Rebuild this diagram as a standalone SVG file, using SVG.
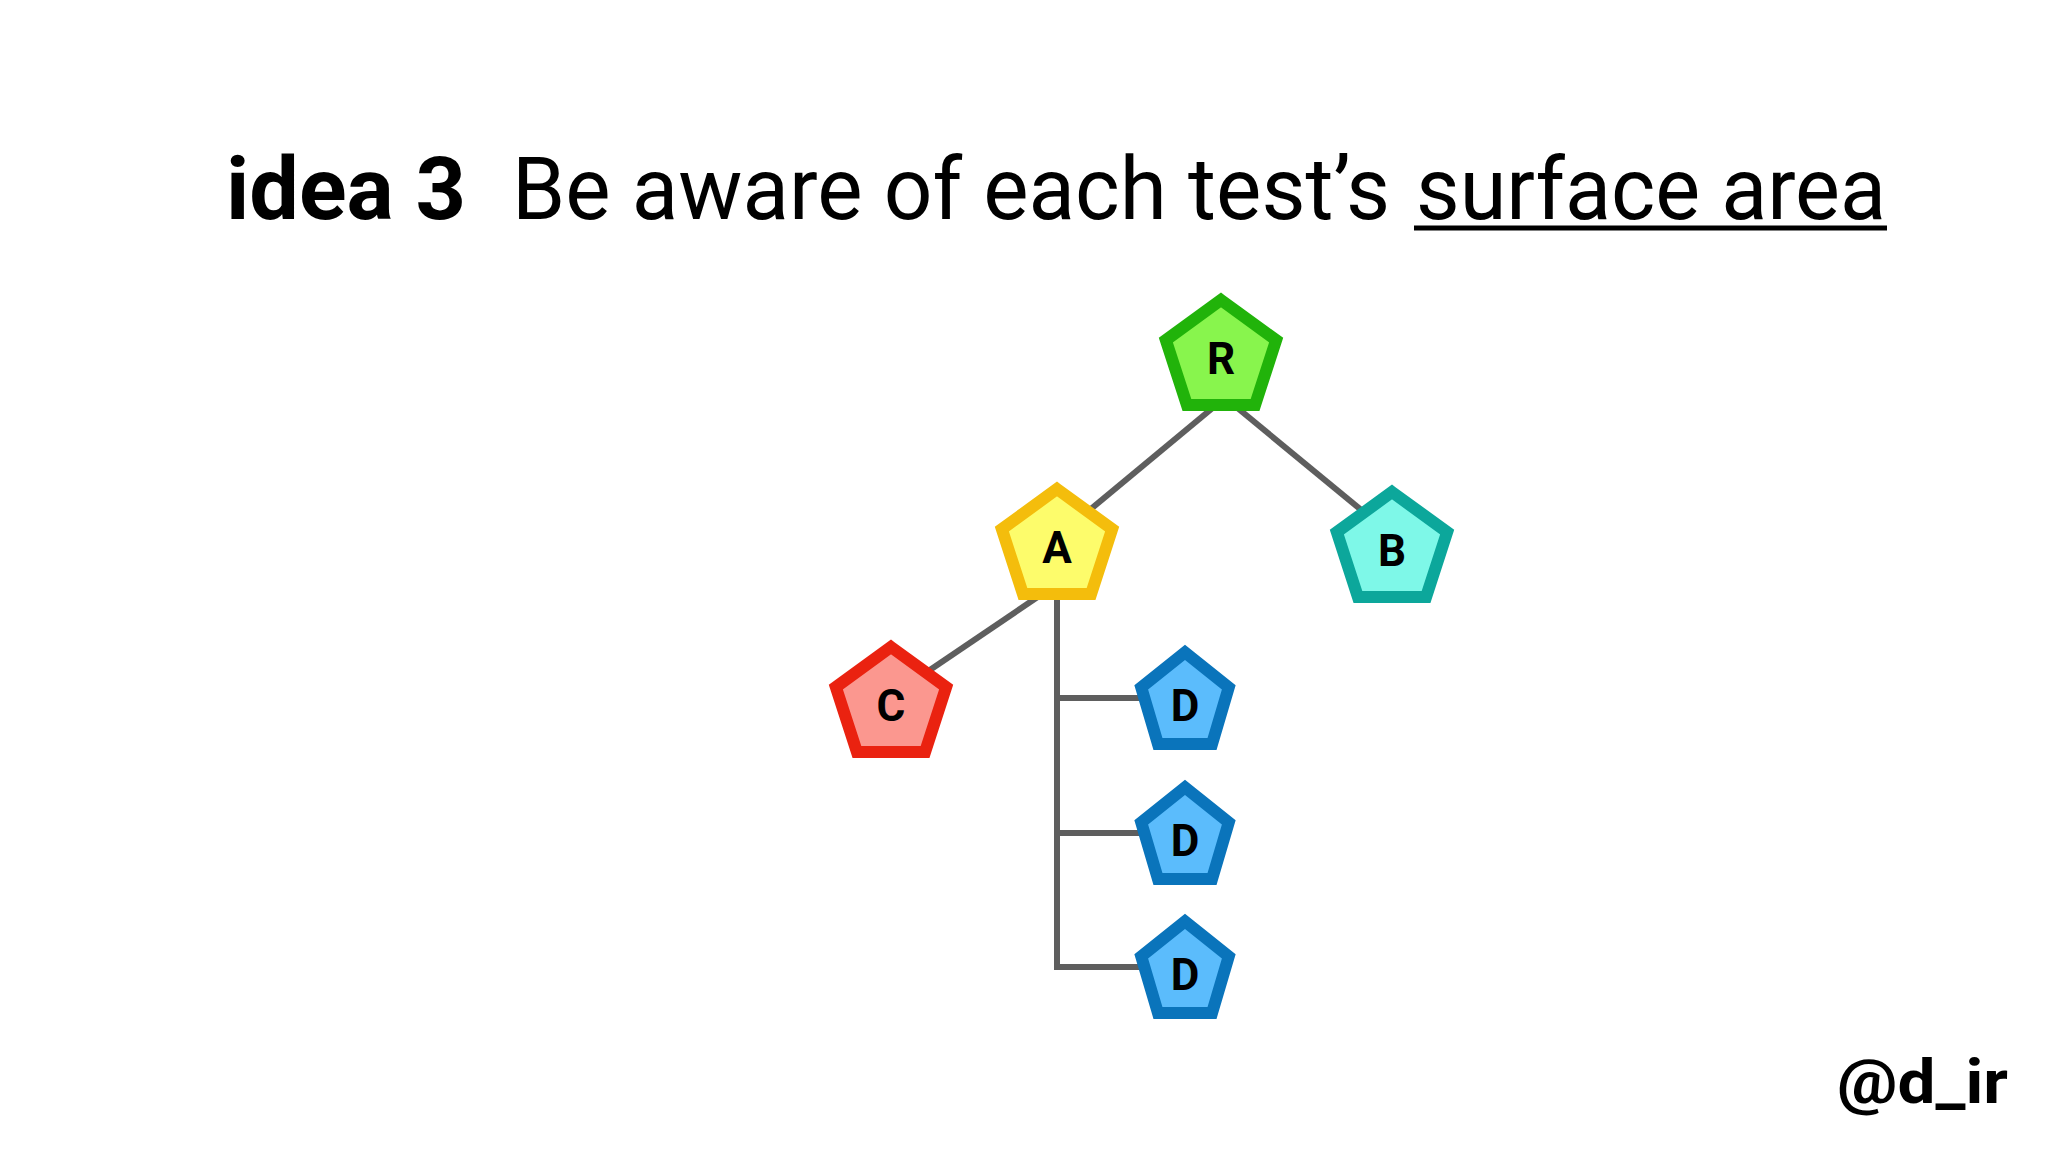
<svg xmlns="http://www.w3.org/2000/svg" width="2048" height="1152" viewBox="0 0 2048 1152">
  <style>
    .edge { fill: none; stroke: #5e5e5e; stroke-width: 6; stroke-linejoin: miter; }
    .node { stroke-width: 12; stroke-linejoin: miter; }
    .lbl { font-family: Roboto, "Liberation Sans", sans-serif; font-weight: 700; font-size: 44px; fill: #000; text-anchor: middle; }
    .title { font-family: Roboto, "Noto Sans", "Liberation Sans", sans-serif; font-size: 88px; fill: #000; }
  </style>
  <defs>
    <polygon id="pent" points="0,-58 55.16,-17.92 34.09,46.92 -34.09,46.92 -55.16,-17.92"/>
    <polygon id="pentD" points="0,-50.6 43.75,-15.63 27.04,40.94 -27.04,40.94 -43.75,-15.63"/>
  </defs>
  <rect width="2048" height="1152" fill="#ffffff"/>

  <g id="title">
    <text class="title" x="226" y="219" font-weight="700" textLength="240" lengthAdjust="spacingAndGlyphs">idea 3</text>
    <text class="title" x="512" y="219" font-weight="400" textLength="878" lengthAdjust="spacingAndGlyphs">Be aware of each test’s</text>
    <text class="title" x="1416" y="219" font-weight="400" textLength="470" lengthAdjust="spacingAndGlyphs">surface area</text>
    <line x1="1414" y1="228" x2="1887" y2="228" stroke="#000" stroke-width="5"/>
  </g>

  <g id="connectors">
    <line class="edge" x1="1221" y1="401" x2="1080" y2="518"/>
    <line class="edge" x1="1229" y1="401" x2="1371" y2="518"/>
    <line class="edge" x1="1045" y1="592" x2="921" y2="676"/>
    <polyline class="edge" points="1057,590 1057,967 1150,967"/>
    <line class="edge" x1="1057" y1="698" x2="1150" y2="698"/>
    <line class="edge" x1="1057" y1="833" x2="1150" y2="833"/>
  </g>

  <g id="node-R" transform="translate(1221,358)">
    <use href="#pent" class="node" fill="#88f54d" stroke="#21b30a"/>
    <text class="lbl" x="0" y="16">R</text>
  </g>
  <g id="node-A" transform="translate(1057,547)">
    <use href="#pent" class="node" fill="#fdfc6b" stroke="#f4bd0c"/>
    <text class="lbl" x="0" y="16">A</text>
  </g>
  <g id="node-B" transform="translate(1392,550)">
    <use href="#pent" class="node" fill="#7ef8e8" stroke="#0ca79b"/>
    <text class="lbl" x="0" y="16">B</text>
  </g>
  <g id="node-C" transform="translate(891,705)">
    <use href="#pent" class="node" fill="#fb978f" stroke="#ea2210"/>
    <text class="lbl" x="0" y="16">C</text>
  </g>
  <g id="node-D1" transform="translate(1185,703)">
    <use href="#pentD" class="node" fill="#5bbcfc" stroke="#0a74bb"/>
    <text class="lbl" x="0" y="18">D</text>
  </g>
  <g id="node-D2" transform="translate(1185,838)">
    <use href="#pentD" class="node" fill="#5bbcfc" stroke="#0a74bb"/>
    <text class="lbl" x="0" y="18">D</text>
  </g>
  <g id="node-D3" transform="translate(1185,972)">
    <use href="#pentD" class="node" fill="#5bbcfc" stroke="#0a74bb"/>
    <text class="lbl" x="0" y="18">D</text>
  </g>

  <g id="handle">
    <text x="1837" y="1103" font-family="Roboto, 'Liberation Sans', sans-serif" font-weight="700" font-size="62" fill="#000" textLength="171" lengthAdjust="spacingAndGlyphs">@d_ir</text>
  </g>
</svg>
